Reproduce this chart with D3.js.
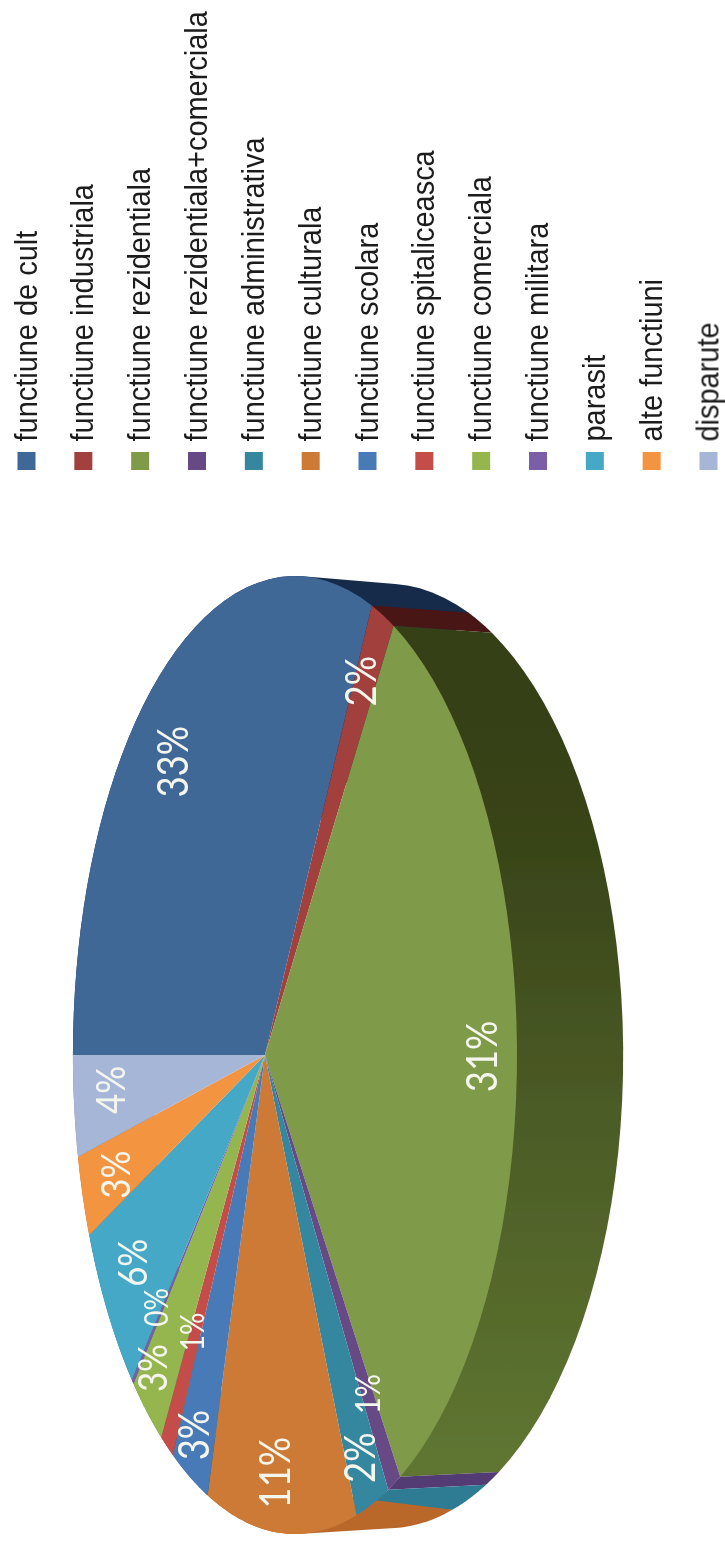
<!DOCTYPE html>
<html>
<head>
<meta charset="utf-8">
<script src="https://cdn.jsdelivr.net/npm/d3@7"></script>
<style>
html,body{margin:0;padding:0;background:#fff}
svg{display:block}
</style>
</head>
<body>
<svg id="chart" width="725" height="1546"></svg>
<script>
const categories = ["functiune de cult","functiune industriala","functiune rezidentiala","functiune rezidentiala+comerciala","functiune administrativa","functiune culturala","functiune scolara","functiune spitaliceasca","functiune comerciala","functiune militara","parasit","alte functiuni","disparute"];
const values = [32.6,1.6,31.1,0.9,2.3,10.9,3.0,1.1,2.9,0.2,6.4,3.1,3.9];

const faceColors = ["#3f6797","#a23f3c","#7f9a48","#664a85","#34879f","#cc7a34","#4a7ab8","#c44d4a","#95b64f","#7a5fa8","#45a8c6","#f39440","#a6b6d6"];
const wallColors = ["#162c4a","#4a1414","url(#greenWall)","#533a73","#2f7b93","#b9672c","#2f5080","#8a3432","#6a8238","#55417a","#2f7b93","#b0682c","#76819a"];
const labelRadius = [0.796,0.85,0.874,0.805,0.90,0.876,0.906,0.705,0.902,0.782,0.819,0.807,0.79];
const labelShift = [-0.9,-0.35,0.3,-0.05,0.15,0.25,0.3,0.35,0.65,0.5,0.3,-0.15,0.31];
const labelSize = [43,43,43,34,43,43,43,33,41,33,41,41,41];

const svg = d3.select("#chart");
const defs = svg.append("defs");
const grad = defs.append("linearGradient").attr("id","greenWall")
  .attr("gradientUnits","userSpaceOnUse").attr("x1",0).attr("x2",0).attr("y1",630).attr("y2",1470);
[[0,"#343f17"],[0.25,"#384418"],[0.55,"#4a5a25"],[1,"#5f7631"]].forEach(s=>grad.append("stop").attr("offset",s[0]).attr("stop-color",s[1]));
defs.append("filter").attr("id","soft").attr("x",0).attr("y",0).attr("width","100%").attr("height","100%")
  .attr("filterUnits","userSpaceOnUse")
  .append("feGaussianBlur").attr("stdDeviation",0.6);
d3.select("#soft").attr("x",0).attr("y",0).attr("width",725).attr("height",1546);

const root = svg.append("g").attr("filter","url(#soft)");
root.append("rect").attr("width",725).attr("height",1546).attr("fill","#fff");

/* perspective disc: left edge of the pie is the far side */
const persp = 0.135;
const topX = d3.scaleLinear().domain([-1,1]).range([47,483]);
const topY = d3.scaleLinear().domain([-1,1]).range([580.4,1529.6]);
const botX = d3.scaleLinear().domain([-1,1]).range([123,587]);
const botY = d3.scaleLinear().domain([-1,1]).range([588,1524]);

function project(theta, r, sx, sy){
  const u = -Math.cos(theta)*r, v = -Math.sin(theta)*r, d = 1-persp*u;
  return [sx(u/d), sy(v/d)];
}
const pie = d3.pie().sort(null).startAngle(0).endAngle(2*Math.PI);
const arcs = pie(values);
const line = d3.line();
const samples = (a,b)=>d3.range(0,41).map(i=>a+(b-a)*i/40);

root.append("g").selectAll("path").data(arcs).join("path")
  .attr("fill",(d,i)=>wallColors[i])
  .attr("d",d=>{
    const s = samples(d.startAngle,d.endAngle);
    const hull = d3.polygonHull(s.map(t=>project(t,1,topX,topY)).concat(s.map(t=>project(t,1,botX,botY))));
    return line(hull)+"Z";
  });

root.append("g").selectAll("path").data(arcs).join("path")
  .attr("fill",(d,i)=>faceColors[i])
  .attr("d",d=>{
    const s = samples(d.startAngle,d.endAngle);
    return line([project(0,0,topX,topY)].concat(s.map(t=>project(t,1,topX,topY))))+"Z";
  });

const total = d3.sum(values);
const pct = d3.format(".0f");
root.append("g").selectAll("text").data(arcs).join("text")
  .attr("transform",(d,i)=>{
    const mid = (d.startAngle+d.endAngle)/2 + labelShift[i]/100*2*Math.PI;
    const p = project(mid,labelRadius[i],topX,topY);
    return `translate(${p[0]},${p[1]}) rotate(-90) scale(0.85,1)`;
  })
  .attr("text-anchor","middle").attr("dy","0.36em")
  .attr("font-family","Lato, sans-serif")
  .attr("font-size",(d,i)=>labelSize[i])
  .attr("fill","#f4f6ee")
  .text(d=>pct(d.value/total*100)+"%");

/* legend */
const legendX = d3.scalePoint().domain(categories).range([26.5,708.5]);
const legend = root.append("g").selectAll("g").data(categories).join("g");
legend.append("rect")
  .attr("x",d=>legendX(d)-9).attr("y",452).attr("width",18).attr("height",18)
  .attr("fill",(d,i)=>faceColors[i]);
legend.append("text")
  .attr("transform",d=>`translate(${legendX(d)+10},441.5) rotate(-90) scale(0.905,1)`)
  .attr("font-family","'Liberation Sans', Arial, sans-serif")
  .attr("font-size",32).attr("fill","#1a1a1a")
  .text(d=>d);
</script>
</body>
</html>
